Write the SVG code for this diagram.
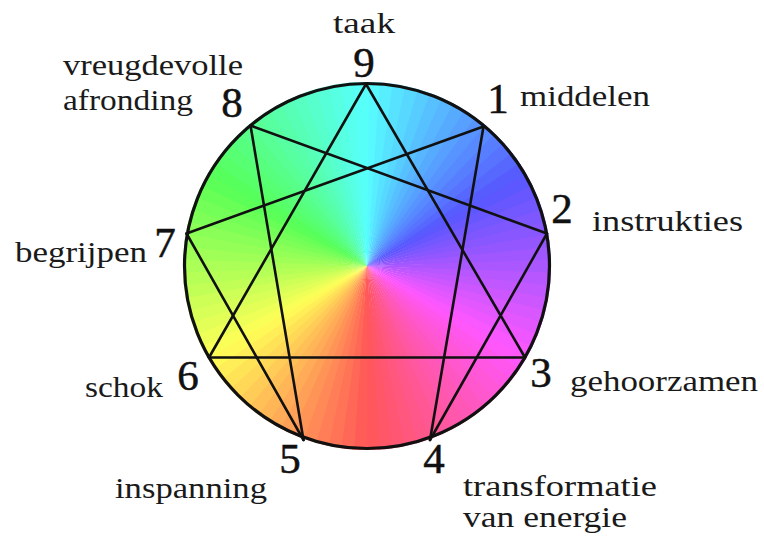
<svg xmlns="http://www.w3.org/2000/svg" width="764" height="539" viewBox="0 0 764 539">
<style>
text{font-family:'Liberation Serif','DejaVu Serif','Noto Serif',serif}
.lbl{font-size:29px;fill:#1a1a1a}
.num{font-size:43px;fill:#111;stroke:#111;stroke-width:0.5;text-anchor:middle}
.ln{stroke:#111;stroke-width:2.6;fill:none;stroke-linecap:round}
</style>
<defs>
<path id="w" d="M0 0 L0 -184 A184 184 0 0 1 14.76 -183.41 Z"/>
</defs>
<rect width="764" height="539" fill="#ffffff"/>
<g id="wheel" transform="translate(367,266)">
<use href="#w" transform="rotate(0)" fill="hsl(182,100%,67%)"/>
<use href="#w" transform="rotate(4)" fill="hsl(186,100%,67%)"/>
<use href="#w" transform="rotate(8)" fill="hsl(190,100%,67%)"/>
<use href="#w" transform="rotate(12)" fill="hsl(194,100%,67%)"/>
<use href="#w" transform="rotate(16)" fill="hsl(198,100%,67%)"/>
<use href="#w" transform="rotate(20)" fill="hsl(202,100%,67%)"/>
<use href="#w" transform="rotate(24)" fill="hsl(206,100%,67%)"/>
<use href="#w" transform="rotate(28)" fill="hsl(210,100%,67%)"/>
<use href="#w" transform="rotate(32)" fill="hsl(214,100%,67%)"/>
<use href="#w" transform="rotate(36)" fill="hsl(218,100%,67%)"/>
<use href="#w" transform="rotate(40)" fill="hsl(222,100%,67%)"/>
<use href="#w" transform="rotate(44)" fill="hsl(226,100%,67%)"/>
<use href="#w" transform="rotate(48)" fill="hsl(230,100%,67%)"/>
<use href="#w" transform="rotate(52)" fill="hsl(234,100%,67%)"/>
<use href="#w" transform="rotate(56)" fill="hsl(238,100%,67%)"/>
<use href="#w" transform="rotate(60)" fill="hsl(242,100%,67%)"/>
<use href="#w" transform="rotate(64)" fill="hsl(246,100%,67%)"/>
<use href="#w" transform="rotate(68)" fill="hsl(250,100%,67%)"/>
<use href="#w" transform="rotate(72)" fill="hsl(254,100%,67%)"/>
<use href="#w" transform="rotate(76)" fill="hsl(258,100%,67%)"/>
<use href="#w" transform="rotate(80)" fill="hsl(262,100%,67%)"/>
<use href="#w" transform="rotate(84)" fill="hsl(266,100%,67%)"/>
<use href="#w" transform="rotate(88)" fill="hsl(270,100%,67%)"/>
<use href="#w" transform="rotate(92)" fill="hsl(274,100%,67%)"/>
<use href="#w" transform="rotate(96)" fill="hsl(278,100%,67%)"/>
<use href="#w" transform="rotate(100)" fill="hsl(282,100%,67%)"/>
<use href="#w" transform="rotate(104)" fill="hsl(286,100%,67%)"/>
<use href="#w" transform="rotate(108)" fill="hsl(290,100%,67%)"/>
<use href="#w" transform="rotate(112)" fill="hsl(294,100%,67%)"/>
<use href="#w" transform="rotate(116)" fill="hsl(298,100%,67%)"/>
<use href="#w" transform="rotate(120)" fill="hsl(302,100%,67%)"/>
<use href="#w" transform="rotate(124)" fill="hsl(306,100%,67%)"/>
<use href="#w" transform="rotate(128)" fill="hsl(310,100%,67%)"/>
<use href="#w" transform="rotate(132)" fill="hsl(314,100%,67%)"/>
<use href="#w" transform="rotate(136)" fill="hsl(318,100%,67%)"/>
<use href="#w" transform="rotate(140)" fill="hsl(322,100%,67%)"/>
<use href="#w" transform="rotate(144)" fill="hsl(326,100%,67%)"/>
<use href="#w" transform="rotate(148)" fill="hsl(330,100%,67%)"/>
<use href="#w" transform="rotate(152)" fill="hsl(334,100%,67%)"/>
<use href="#w" transform="rotate(156)" fill="hsl(338,100%,67%)"/>
<use href="#w" transform="rotate(160)" fill="hsl(342,100%,67%)"/>
<use href="#w" transform="rotate(164)" fill="hsl(346,100%,67%)"/>
<use href="#w" transform="rotate(168)" fill="hsl(350,100%,67%)"/>
<use href="#w" transform="rotate(172)" fill="hsl(354,100%,67%)"/>
<use href="#w" transform="rotate(176)" fill="hsl(358,100%,67%)"/>
<use href="#w" transform="rotate(180)" fill="hsl(2,100%,67%)"/>
<use href="#w" transform="rotate(184)" fill="hsl(6,100%,67%)"/>
<use href="#w" transform="rotate(188)" fill="hsl(10,100%,67%)"/>
<use href="#w" transform="rotate(192)" fill="hsl(14,100%,67%)"/>
<use href="#w" transform="rotate(196)" fill="hsl(18,100%,67%)"/>
<use href="#w" transform="rotate(200)" fill="hsl(22,100%,67%)"/>
<use href="#w" transform="rotate(204)" fill="hsl(26,100%,67%)"/>
<use href="#w" transform="rotate(208)" fill="hsl(30,100%,67%)"/>
<use href="#w" transform="rotate(212)" fill="hsl(34,100%,67%)"/>
<use href="#w" transform="rotate(216)" fill="hsl(38,100%,67%)"/>
<use href="#w" transform="rotate(220)" fill="hsl(42,100%,67%)"/>
<use href="#w" transform="rotate(224)" fill="hsl(46,100%,67%)"/>
<use href="#w" transform="rotate(228)" fill="hsl(50,100%,67%)"/>
<use href="#w" transform="rotate(232)" fill="hsl(54,100%,67%)"/>
<use href="#w" transform="rotate(236)" fill="hsl(58,100%,67%)"/>
<use href="#w" transform="rotate(240)" fill="hsl(62,100%,67%)"/>
<use href="#w" transform="rotate(244)" fill="hsl(66,100%,67%)"/>
<use href="#w" transform="rotate(248)" fill="hsl(70,100%,67%)"/>
<use href="#w" transform="rotate(252)" fill="hsl(74,100%,67%)"/>
<use href="#w" transform="rotate(256)" fill="hsl(78,100%,67%)"/>
<use href="#w" transform="rotate(260)" fill="hsl(82,100%,67%)"/>
<use href="#w" transform="rotate(264)" fill="hsl(86,100%,67%)"/>
<use href="#w" transform="rotate(268)" fill="hsl(90,100%,67%)"/>
<use href="#w" transform="rotate(272)" fill="hsl(94,100%,67%)"/>
<use href="#w" transform="rotate(276)" fill="hsl(98,100%,67%)"/>
<use href="#w" transform="rotate(280)" fill="hsl(102,100%,67%)"/>
<use href="#w" transform="rotate(284)" fill="hsl(106,100%,67%)"/>
<use href="#w" transform="rotate(288)" fill="hsl(110,100%,67%)"/>
<use href="#w" transform="rotate(292)" fill="hsl(114,100%,67%)"/>
<use href="#w" transform="rotate(296)" fill="hsl(118,100%,67%)"/>
<use href="#w" transform="rotate(300)" fill="hsl(122,100%,67%)"/>
<use href="#w" transform="rotate(304)" fill="hsl(126,100%,67%)"/>
<use href="#w" transform="rotate(308)" fill="hsl(130,100%,67%)"/>
<use href="#w" transform="rotate(312)" fill="hsl(134,100%,67%)"/>
<use href="#w" transform="rotate(316)" fill="hsl(138,100%,67%)"/>
<use href="#w" transform="rotate(320)" fill="hsl(142,100%,67%)"/>
<use href="#w" transform="rotate(324)" fill="hsl(146,100%,67%)"/>
<use href="#w" transform="rotate(328)" fill="hsl(150,100%,67%)"/>
<use href="#w" transform="rotate(332)" fill="hsl(154,100%,67%)"/>
<use href="#w" transform="rotate(336)" fill="hsl(158,100%,67%)"/>
<use href="#w" transform="rotate(340)" fill="hsl(162,100%,67%)"/>
<use href="#w" transform="rotate(344)" fill="hsl(166,100%,67%)"/>
<use href="#w" transform="rotate(348)" fill="hsl(170,100%,67%)"/>
<use href="#w" transform="rotate(352)" fill="hsl(174,100%,67%)"/>
<use href="#w" transform="rotate(356)" fill="hsl(178,100%,67%)"/>
<circle cx="0" cy="0" r="182.5" fill="none" stroke="#111" stroke-width="3.2"/>
</g>
<g id="connectors">
<line class="ln" x1="366" y1="84" x2="525" y2="357.5"/>
<line class="ln" x1="525" y1="357.5" x2="209" y2="357.5"/>
<line class="ln" x1="209" y1="357.5" x2="366" y2="84"/>
<line class="ln" x1="483.5" y1="126.5" x2="430" y2="440"/>
<line class="ln" x1="430" y1="440" x2="547" y2="233.5"/>
<line class="ln" x1="547" y1="233.5" x2="250.5" y2="125.5"/>
<line class="ln" x1="250.5" y1="125.5" x2="303.5" y2="440"/>
<line class="ln" x1="303.5" y1="440" x2="186.5" y2="233.5"/>
<line class="ln" x1="186.5" y1="233.5" x2="483.5" y2="126.5"/>
</g>
<g id="nodes" font-family="Liberation Serif, DejaVu Serif, serif">
<g id="node-9"><text class="num" x="364" y="77">9</text><text class="lbl" x="333" y="33" textLength="62" lengthAdjust="spacingAndGlyphs">taak</text></g>
<g id="node-1"><text class="num" x="498" y="113">1</text><text class="lbl" x="520" y="106" textLength="130" lengthAdjust="spacingAndGlyphs">middelen</text></g>
<g id="node-2"><text class="num" x="562" y="223">2</text><text class="lbl" x="592" y="231" textLength="151" lengthAdjust="spacingAndGlyphs">instrukties</text></g>
<g id="node-3"><text class="num" x="541" y="387">3</text><text class="lbl" x="570" y="391" textLength="188" lengthAdjust="spacingAndGlyphs">gehoorzamen</text></g>
<g id="node-4"><text class="num" x="434" y="473">4</text><text class="lbl" x="463" y="496" textLength="194" lengthAdjust="spacingAndGlyphs">transformatie</text><text class="lbl" x="463" y="527" textLength="164" lengthAdjust="spacingAndGlyphs">van energie</text></g>
<g id="node-5"><text class="num" x="290" y="473">5</text><text class="lbl" x="115" y="498" textLength="152" lengthAdjust="spacingAndGlyphs">inspanning</text></g>
<g id="node-6"><text class="num" x="188" y="390">6</text><text class="lbl" x="85" y="397" textLength="78" lengthAdjust="spacingAndGlyphs">schok</text></g>
<g id="node-7"><text class="num" x="165" y="257">7</text><text class="lbl" x="15" y="262" textLength="132" lengthAdjust="spacingAndGlyphs">begrijpen</text></g>
<g id="node-8"><text class="num" x="232" y="117">8</text><text class="lbl" x="63" y="75" textLength="180" lengthAdjust="spacingAndGlyphs">vreugdevolle</text><text class="lbl" x="63" y="110" textLength="130" lengthAdjust="spacingAndGlyphs">afronding</text></g>
</g>
</svg>
